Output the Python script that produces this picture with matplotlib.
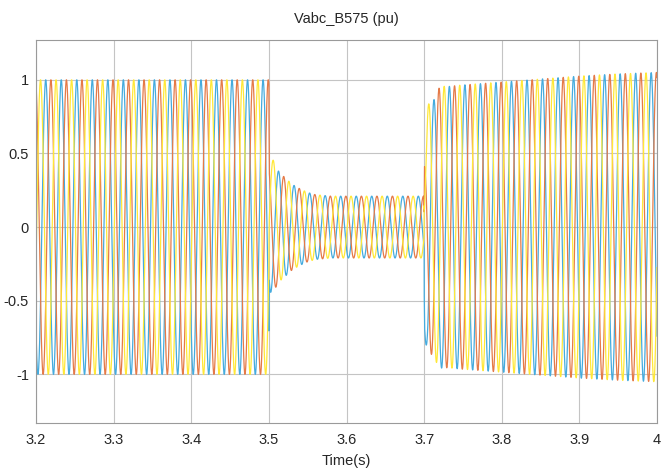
import numpy as np
import matplotlib
matplotlib.use('Agg')
import matplotlib.pyplot as plt

plt.rcParams['font.family'] = ['Liberation Sans', 'DejaVu Sans']

# scope window and grid
t_start, t_stop = 3.2, 4.0
f_grid = 50.0
x_ticks = [3.2, 3.3, 3.4, 3.5, 3.6, 3.7, 3.8, 3.9, 4.0]
x_labels = ['3.2', '3.3', '3.4', '3.5', '3.6', '3.7', '3.8', '3.9', '4']
y_ticks = [-1, -0.5, 0, 0.5, 1]
y_labels = ['-1', '-0.5', '0', '0.5', '1']

# voltage magnitude at B575 (pu)
env_t = [3.2, 3.5, 3.5005, 3.505, 3.51, 3.52, 3.53, 3.54, 3.55, 3.56, 3.58, 3.7,
         3.7005, 3.705, 3.71, 3.715, 3.72, 3.75, 3.8, 3.85, 3.9, 3.95, 4.0]
env_v = [1.0, 1.0, 0.5, 0.43, 0.39, 0.34, 0.29, 0.26, 0.235, 0.22, 0.21, 0.21,
         0.55, 0.74, 0.86, 0.93, 0.95, 0.965, 0.985, 1.005, 1.025, 1.04, 1.05]

# phase a, b, c
phase_names = ['a', 'b', 'c']
phase_colors = ['#45ABDE', '#E57A47', '#FFE838']
phase_shift_deg = [225, 105, 345]
# decaying offsets right after fault inception / clearing
fault_dc = [0.05, -0.10, 0.12]
clear_dc = [-0.25, -0.10, 0.20]

t = np.arange(t_start, t_stop, 1e-5)
amp = np.interp(t, env_t, env_v)

fig = plt.figure(figsize=(6.72, 4.71), dpi=100)
ax = fig.add_axes([0.0536, 0.102, 0.9241, 0.813])

for k in range(3):
    ph = np.deg2rad(phase_shift_deg[k])
    v = amp * np.sin(2 * np.pi * f_grid * t + ph)
    v += np.where(t >= 3.5, fault_dc[k] * np.exp(-(t - 3.5) / 0.004), 0)
    v += np.where(t >= 3.7, clear_dc[k] * np.exp(-(t - 3.7) / 0.006), 0)
    ax.plot(t, v, color=phase_colors[k], lw=0.9, label=phase_names[k])

ax.set_xlim(t_start, t_stop)
ax.set_ylim(-1.33, 1.27)
ax.set_xticks(x_ticks)
ax.set_xticklabels(x_labels)
ax.set_yticks(y_ticks)
ax.set_yticklabels(y_labels)
ax.grid(True, color='#C4C4C4', lw=0.8)
ax.set_axisbelow(True)
for s in ax.spines.values():
    s.set_color('#9A9A9A')
    s.set_linewidth(0.8)
ax.tick_params(direction='in', length=0, labelsize=10.5, colors='#262626')
ax.tick_params(axis='x', pad=7)
ax.tick_params(axis='y', pad=5)
ax.set_title('Vabc_B575 (pu)', fontsize=10.5, color='#262626', pad=12)
ax.set_xlabel('Time(s)', fontsize=10.5, color='#262626', labelpad=5)

fig.savefig('out.png', dpi=100)
